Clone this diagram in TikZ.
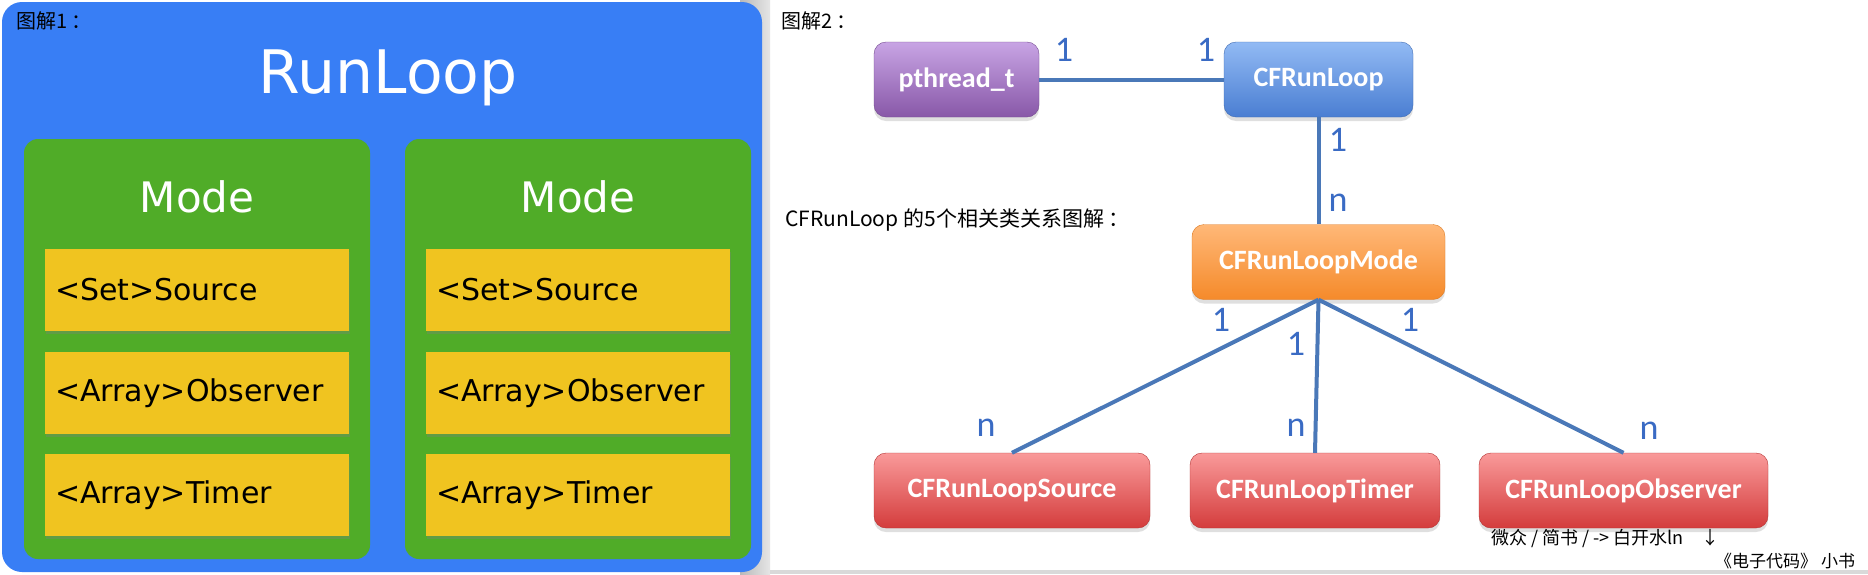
\documentclass[tikz,border=0pt]{standalone}
\usepackage{fontspec}
\setmainfont{Carlito}
\newfontfamily\cjk{Noto Sans CJK SC}
\newfontfamily\dejavu{DejaVu Sans}
\usepackage{xcolor}
\usetikzlibrary{positioning,shadows}
\definecolor{panelblue}{HTML}{387EF5}
\definecolor{modegreen}{HTML}{50AC28}
\definecolor{slotyellow}{HTML}{F0C420}
\definecolor{linkblue}{HTML}{4A78B8}
\definecolor{numblue}{HTML}{3A6BC4}
\definecolor{purpletop}{HTML}{C8A4E4}
\definecolor{purplebot}{HTML}{8858A8}
\definecolor{bluetop}{HTML}{92BAF4}
\definecolor{bluebot}{HTML}{4A7ED2}
\definecolor{orangetop}{HTML}{FFB878}
\definecolor{orangebot}{HTML}{F58A2A}
\definecolor{redtop}{HTML}{F99A9A}
\definecolor{redbot}{HTML}{D43C3C}

\begin{document}
\begin{tikzpicture}[x=1pt,y=-1pt,
    slot/.style={fill=slotyellow, minimum width=304pt, minimum height=82pt,
        text width=284pt, inner xsep=10pt, align=left,
        font=\dejavu\fontsize{30}{32}\selectfont,
        drop shadow={shadow xshift=1pt, shadow yshift=-3pt, opacity=0.35}},
    cls/.style={rounded corners=12pt, minimum height=75pt, text=white,
        font=\fontsize{28}{30}\selectfont\bfseries,
        drop shadow={shadow xshift=0pt, shadow yshift=-4pt, opacity=0.25}},
    purplebox/.style={cls, top color=purpletop, bottom color=purplebot, draw=purplebot!85!black},
    bluebox/.style={cls, top color=bluetop, bottom color=bluebot, draw=bluebot!85!black},
    orangebox/.style={cls, top color=orangetop, bottom color=orangebot, draw=orangebot!90!black},
    redbox/.style={cls, top color=redtop, bottom color=redbot, draw=redbot!85!black},
    lnk/.style={draw=linkblue, line width=4pt},
    mult/.style={text=numblue, font=\fontsize{36}{36}\selectfont, inner sep=0pt},
    note/.style={font=\cjk\fontsize{20}{20}\selectfont, anchor=base west, inner sep=0pt}]
    \useasboundingbox (0,0) rectangle (1868,574);
    \fill[white] (0,0) rectangle (1868,574);

    % picture 1
    \shade[left color=gray!55, right color=gray!20] (740,0) rectangle (770,574);
    \fill[panelblue, rounded corners=20pt] (2,2) rectangle (762,572);
    \node[note] (cap1) at (16,28) {图解1 ：};
    \node[anchor=base, text=white, font=\dejavu\fontsize{60}{60}\selectfont] (title) at (388,93) {RunLoop};

    \fill[modegreen, rounded corners=14pt] (24,139) rectangle (370,559);
    \fill[modegreen, rounded corners=14pt] (405,139) rectangle (751,559);
    \node[anchor=base, text=white, font=\dejavu\fontsize{42}{42}\selectfont] (modeA) at (197,212) {Mode};
    \node[anchor=base, text=white, font=\dejavu\fontsize{42}{42}\selectfont] (modeB) at (578,212) {Mode};

    \node[slot] (srcA) at (197,290) {<Set>Source};
    \node[slot] (obsA) at (197,393) {<Array>Observer};
    \node[slot] (tmrA) at (197,495) {<Array>Timer};
    \node[slot] (srcB) at (578,290) {<Set>Source};
    \node[slot] (obsB) at (578,393) {<Array>Observer};
    \node[slot] (tmrB) at (578,495) {<Array>Timer};

    % picture 2
    \fill[gray!30] (770,570) rectangle (1868,574);
    \node[note] (cap2) at (781,28) {图解2 ：};
    \node[note, font=\cjk\fontsize{21}{21}\selectfont] (cap3) at (785,226) {CFRunLoop 的5个相关类关系图解 ：};

    \node[purplebox, minimum width=165pt] (thread) at (956.5,79.5) {pthread\_t};
    \node[bluebox, minimum width=189pt] (loop) at (1318.5,79.5) {CFRunLoop};
    \node[orangebox, minimum width=253pt] (mode) at (1318.5,262) {CFRunLoopMode};
    \node[redbox, minimum width=276pt] (source) at (1012,490.5) {CFRunLoopSource};
    \node[redbox, minimum width=250pt] (timer) at (1315,490.5) {CFRunLoopTimer};
    \node[redbox, minimum width=289pt] (observer) at (1623.5,490.5) {CFRunLoopObserver};

    \draw[lnk] (thread.east) -- (loop.west);
    \draw[lnk] (loop.south) -- (mode.north);
    \draw[lnk] (mode.south) -- (source.north);
    \draw[lnk] (mode.south) -- (timer.north);
    \draw[lnk] (mode.south) -- (observer.north);

    \node[mult] (m1) at (1064,50) {1};
    \node[mult] (m2) at (1206,50) {1};
    \node[mult] (m3) at (1338,140) {1};
    \node[mult] (m4) at (1338,203) {n};
    \node[mult] (m5) at (1221,320) {1};
    \node[mult] (m6) at (1296,344) {1};
    \node[mult] (m7) at (1410,320) {1};
    \node[mult] (m8) at (986,428) {n};
    \node[mult] (m9) at (1296,428) {n};
    \node[mult] (m10) at (1649,431) {n};

    \node[note, font=\cjk\fontsize{18}{18}\selectfont] (sign1) at (1491,544) {微众 / 简书 / -> 白开水ln\quad ↓};
    \node[note, font=\cjk\fontsize{17}{17}\selectfont] (sign2) at (1715,567) {《电子代码》 小书};
\end{tikzpicture}
\end{document}
